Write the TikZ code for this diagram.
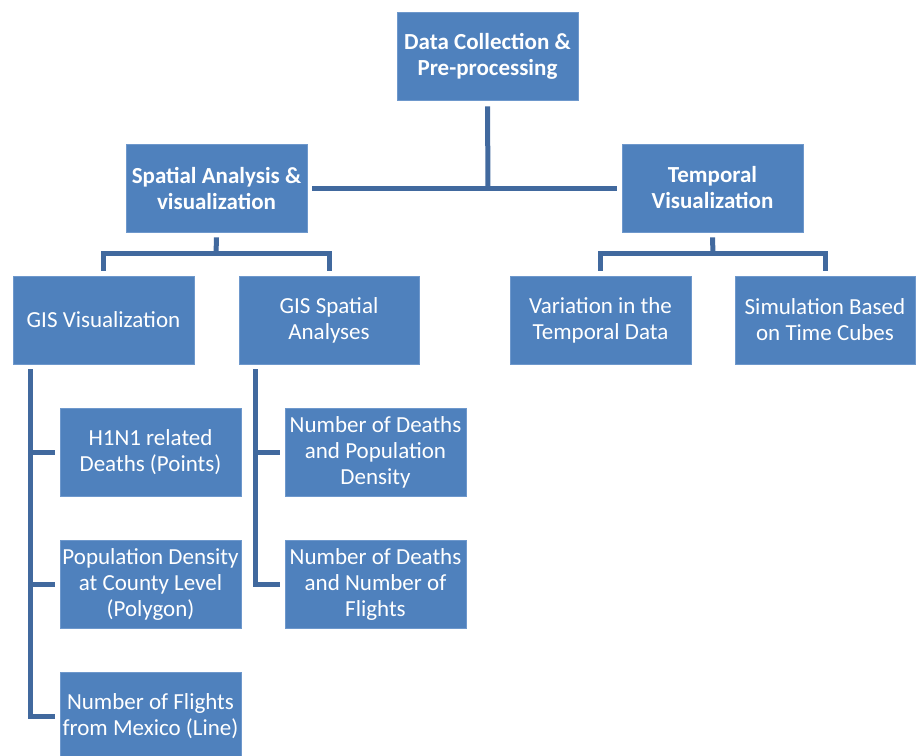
\documentclass[tikz,border=0pt]{standalone}
\usepackage{fontspec}
\setmainfont{Carlito}
\usetikzlibrary{calc}
\definecolor{boxblue}{RGB}{79,129,189}
\definecolor{boxedge}{RGB}{110,152,204}
\definecolor{linkblue}{RGB}{65,105,158}
\tikzset{
  box/.style={fill=boxblue, draw=boxedge, line width=0.8pt, text=white,
    minimum width=181pt, minimum height=88pt, inner sep=1pt, align=center,
    font=\fontsize{23}{26}\selectfont},
  boldbox/.style={box, font=\fontsize{23}{26}\selectfont\bfseries},
  link/.style={draw=linkblue, line width=5pt, line join=miter, line cap=butt}
}
\begin{document}
\begin{tikzpicture}[x=1pt,y=-1pt]
\useasboundingbox (0,0) rectangle (917,755);
\node[boldbox] (top) at (487.5,56) {Data Collection \&\\Pre-processing};
\node[boldbox] (spa) at (216.5,188) {Spatial Analysis \&\\visualization};
\node[boldbox] (tem) at (712.5,188) {Temporal\\Visualization};
\node[box] (gisv) at (103.5,320) {GIS Visualization};
\node[box, minimum width=180pt] (giss) at (329,320) {GIS Spatial\\Analyses};
\node[box] (var) at (600.5,320) {Variation in the\\Temporal Data};
\node[box, minimum width=180pt] (sim) at (825,320) {Simulation Based\\on Time Cubes};
\node[box] (h1n1) at (150.5,452) {H1N1 related\\Deaths (Points)};
\node[box] (pop) at (150.5,584) {Population Density\\at County Level\\(Polygon)};
\node[box] (fl) at (150.5,716) {Number of Flights\\from Mexico (Line)};
\node[box] (ndpd) at (375.5,452) {Number of Deaths\\and Population\\Density};
\node[box] (ndnf) at (375.5,584) {Number of Deaths\\and Number of\\Flights};

% top level
\coordinate (mainbar) at (488,188);
\draw[link] ($(top.south)+(0,6)$) -- (mainbar);
\draw[link] ($(spa.east)+(5,0)$) -- ($(tem.west)+(-5,0)$);

% spatial children
\coordinate (sj) at (216,254);
\draw[link] ($(spa.south)+(0,5)$) -- (sj);
\draw[link] ($(gisv.north)+(0,-5)$) -- ++(0,-17) -| ($(giss.north)+(0,-5)$);

% temporal children
\coordinate (tj) at (713,254);
\draw[link] ($(tem.south)+(0,5)$) -- (tj);
\draw[link] ($(var.north)+(0,-5)$) -- ++(0,-17) -| ($(sim.north)+(0,-5)$);

% GIS visualization children
\coordinate (lv) at (30,369);
\draw[link] (lv) |- ($(fl.west)+(-5,0)$);
\draw[link] (lv |- h1n1.west) -- ($(h1n1.west)+(-5,0)$);
\draw[link] (lv |- pop.west) -- ($(pop.west)+(-5,0)$);

% GIS spatial children
\coordinate (rv) at (255,369);
\draw[link] (rv) |- ($(ndnf.west)+(-5,0)$);
\draw[link] (rv |- ndpd.west) -- ($(ndpd.west)+(-5,0)$);
\end{tikzpicture}
\end{document}
